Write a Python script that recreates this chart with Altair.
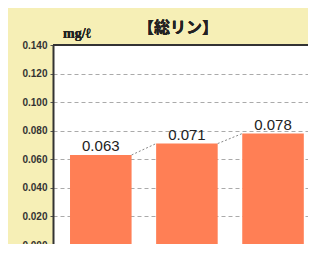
import altair as alt
import pandas as pd

# ---- data ----
positions = [0, 1, 2]
values = [0.063, 0.071, 0.078]
value_labels = ["0.063", "0.071", "0.078"]
y_ticks = [0.000, 0.020, 0.040, 0.060, 0.080, 0.100, 0.120, 0.140]
title_text = "【総リン】"
unit_text = "mg/ℓ"

HALF = 0.3575
BG = "#F6EFB6"
BAR = "#FF7F55"
PLOT_W = 263
PLOT_H = 200

df = pd.DataFrame({"pos": positions, "value": values, "label": value_labels})
seg = pd.DataFrame({
    "xa": [p + HALF for p in positions[:-1]],
    "xb": [p + 1 - HALF for p in positions[:-1]],
    "ya": values[:-1],
    "yb": values[1:],
})

xscale = alt.Scale(domain=[-0.497, 2.441], nice=False, zero=False)
yscale = alt.Scale(domain=[0, 0.14], nice=False)
yaxis = alt.Axis(
    values=y_ticks, tickCount=8, format=".3f", title=None, labelOverlap=False,
    labelFont="Liberation Sans", labelFontSize=10, labelFontWeight="bold",
    labelColor="#333", labelPadding=3, tickSize=3, tickColor="#555",
    grid=True, gridColor="#aaaaaa", gridDash=[4, 3], gridWidth=1,
    domainColor="#333", domainWidth=2)

base = alt.Chart(df)

bars = base.transform_calculate(
    x0=f"datum.pos - {HALF}", x1=f"datum.pos + {HALF}"
).mark_bar(color=BAR, orient="vertical").encode(
    x=alt.X("x0:Q", scale=xscale, axis=None),
    x2="x1:Q",
    y=alt.Y("value:Q", scale=yscale, axis=yaxis),
    y2=alt.datum(0),
)

texts = base.mark_text(
    baseline="bottom", dy=-1, font="Liberation Sans", fontSize=15, color="#222"
).encode(
    x=alt.X("pos:Q", scale=xscale, axis=None),
    y=alt.Y("value:Q", scale=yscale, axis=yaxis),
    text="label:N",
)

connectors = alt.Chart(seg).mark_rule(color="#888", strokeDash=[2, 2], strokeWidth=1).encode(
    x=alt.X("xa:Q", scale=xscale, axis=None), x2="xb:Q",
    y=alt.Y("ya:Q", scale=yscale, axis=yaxis), y2="yb:Q",
)

top_border = alt.Chart(df).mark_rule(color="#333", strokeWidth=2).encode(
    x=alt.value(0), x2=alt.value(PLOT_W), y=alt.value(0))
bottom_border = alt.Chart(df).mark_rule(color="#5a3618", strokeWidth=3).encode(
    x=alt.value(0), x2=alt.value(PLOT_W), y=alt.value(PLOT_H + 1))

title = alt.Chart(df).mark_text(
    font="Noto Sans CJK JP", fontSize=16, fontWeight="bold", color="#222"
).encode(x=alt.value(125), y=alt.value(-17), text=alt.value(title_text))

unit = alt.Chart(df).mark_text(
    font="Liberation Serif", fontSize=14, fontWeight="bold", color="#222"
).encode(x=alt.value(24), y=alt.value(-11), text=alt.value(unit_text))

chart = alt.layer(bars, connectors, texts, top_border, bottom_border, title, unit).properties(
    width=PLOT_W, height=PLOT_H,
    autosize=alt.AutoSizeParams(type="none"),
    padding={"left": 45, "top": 37, "right": -8, "bottom": -1},
    background=BG,
).configure_view(stroke=None, fill="white")

chart.save("out.html", embed_options={"renderer": "svg", "actions": False})
